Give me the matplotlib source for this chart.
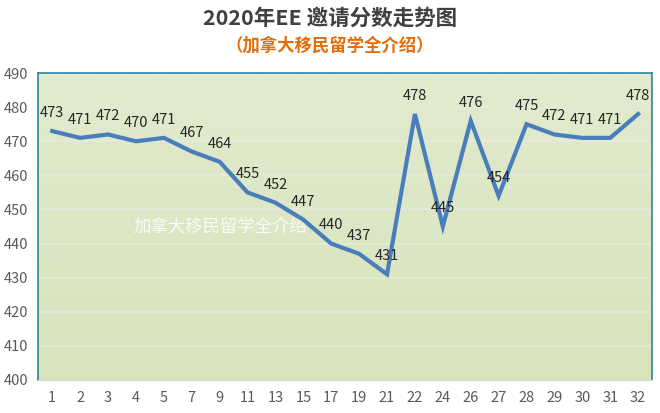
import matplotlib
matplotlib.use('Agg')
import matplotlib.pyplot as plt
import numpy as np
from matplotlib.colors import LinearSegmentedColormap

plt.rcParams['font.family'] = ['Liberation Sans Narrow', 'Noto Sans CJK SC', 'DejaVu Sans']

# draw rounds (x tick labels) and the minimum scores
rounds = ['1', '2', '3', '4', '5', '7', '9', '11', '13', '15', '17', '19', '21',
          '22', '24', '26', '27', '28', '29', '30', '31', '32']
scores = [473, 471, 472, 470, 471, 467, 464, 455, 452, 447, 440, 437, 431,
          478, 445, 476, 454, 475, 472, 471, 471, 478]
yticks = [400, 410, 420, 430, 440, 450, 460, 470, 480, 490]

fig = plt.figure(figsize=(6.6, 4.13), dpi=100)
ax = fig.add_axes([0.058, 0.080, 0.930, 0.743])

x = np.arange(len(rounds))
ax.set_xlim(-0.5, len(rounds) - 0.5)
ax.set_ylim(400, 490)

# soft green gradient background
grad = np.linspace(0, 1, 256).reshape(-1, 1)
cmap = LinearSegmentedColormap.from_list('bg', ['#d6e3bb', '#e2ebcf'])
ax.imshow(grad, aspect='auto', cmap=cmap, origin='lower',
          extent=[-0.5, len(rounds) - 0.5, 400, 490], zorder=0)

for v in yticks[1:-1]:
    ax.axhline(v, color='#e6eadb', lw=1.2, zorder=1)

ax.plot(x, scores, color='#4a7ebb', lw=3, zorder=3, solid_joinstyle='miter')

for xi, s in zip(x, scores):
    ax.annotate(str(s), (xi, s), xytext=(0, 8), textcoords='offset points',
                ha='center', va='bottom', fontsize=10.5, color='#262626', zorder=4)

ax.set_xticks(x)
ax.set_xticklabels(rounds)
ax.set_yticks(yticks)
ax.tick_params(length=0, labelsize=10.5, labelcolor='#595959')
ax.tick_params(axis='x', pad=8)
ax.tick_params(axis='y', pad=7)

for side in ['left', 'top', 'right']:
    ax.spines[side].set_color('#31859c')
    ax.spines[side].set_linewidth(1.2)
ax.spines['bottom'].set_color('#d9d9d9')

# watermark
ax.text(0.155, 0.5, '加拿大移民留学全介绍', transform=ax.transAxes, fontsize=12.5,
        color='white', alpha=0.85, ha='left', va='center',
        family=['Noto Sans CJK SC'], zorder=2)

fig.text(0.5, 0.955, '2020年EE 邀请分数走势图', ha='center', va='center',
         fontsize=15.5, fontweight='bold', color='#404040',
         family=['Noto Sans CJK SC', 'DejaVu Sans'])
fig.text(0.5, 0.890, '（加拿大移民留学全介绍）', ha='center', va='center',
         fontsize=12.5, fontweight='bold', color='#e46c0a',
         family=['Noto Sans CJK SC', 'DejaVu Sans'])

fig.savefig('out.png', dpi=100)
